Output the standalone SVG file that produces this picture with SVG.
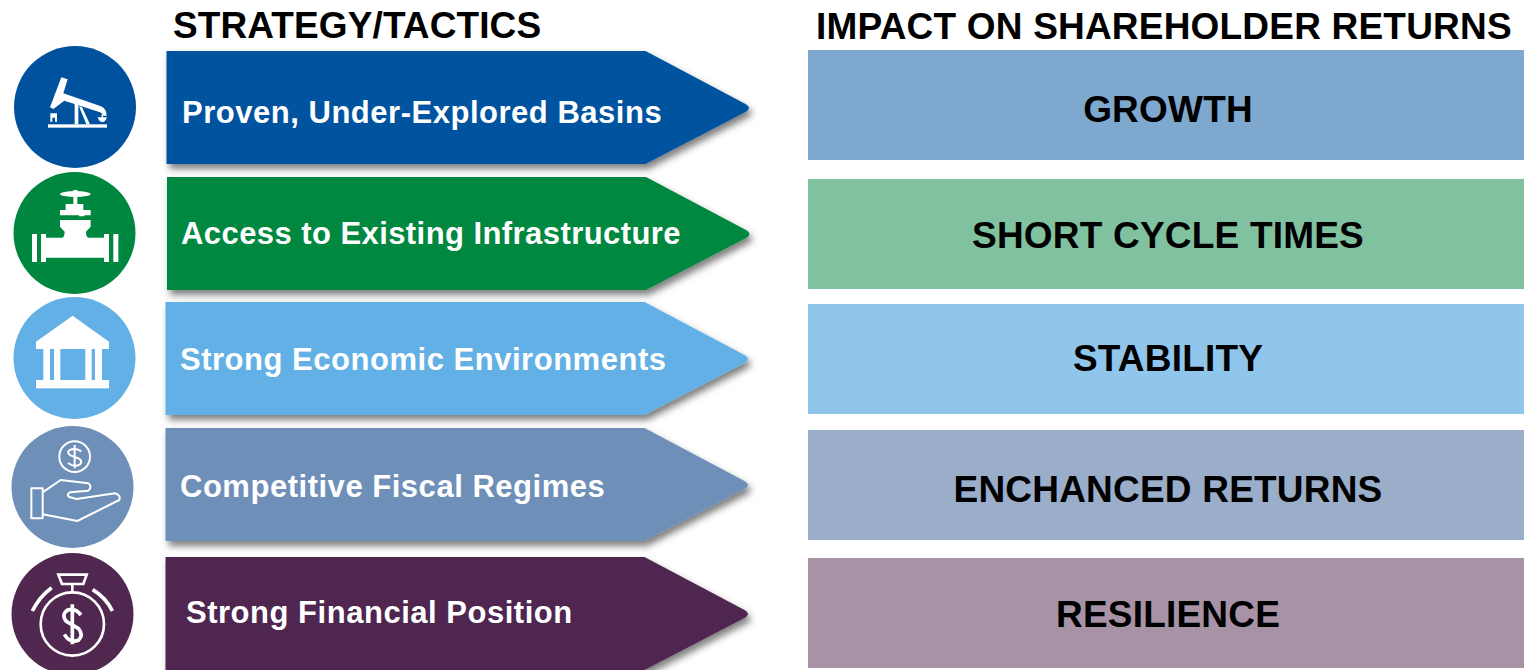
<svg xmlns="http://www.w3.org/2000/svg" width="1524" height="670" viewBox="0 0 1524 670">
<style>
text{font-family:"Liberation Sans",Arial,sans-serif;font-weight:700}
.h{font-size:37px;fill:#000}
.a{font-size:31px;fill:#fff;letter-spacing:.52px}
.a2{letter-spacing:.43px}
.b{font-size:37px;fill:#000;text-anchor:middle;letter-spacing:.2px}
.w{fill:#fff}
.o{fill:none;stroke:#fff;stroke-width:6;stroke-linejoin:round}
.o2{fill:none;stroke:#fff;stroke-width:8}
.o3{fill:none;stroke:#fff;stroke-width:11}
</style>
<defs>
<filter id="sh" x="-5%" y="-10%" width="112%" height="125%"><feDropShadow dx="3" dy="5" stdDeviation="3.500" flood-color="#000" flood-opacity=".5"/></filter>
<path id="arr" d="M0 0H479L579 53Q586 57 579 61L479 113H0Z" filter="url(#sh)"/>
</defs>
<g id="headers">
<text class="h" x="173" y="38" letter-spacing=".1">STRATEGY/TACTICS</text>
<text class="h" x="816" y="39" letter-spacing=".2">IMPACT ON SHAREHOLDER RETURNS</text>
</g>
<g id="connectors"/>
<g id="node-1">
<circle cx="75" cy="107" r="61" fill="#00529f"/>
<g transform="translate(25 65) scale(.3333)">
<rect class="w" x="69" y="178" width="177" height="10"/>
<path class="w" d="M75 127L109 37L128 43L115 85L228 124Q245 132 245 152H235Q233 144 225 142L118 107L85 132Z"/>
<path class="w" d="M76 145H96V170H90V158H82V170H76Z"/>
<path class="w" d="M149 112H160V178H149ZM162 124L171 127L195 178H184Z"/>
<path class="w" d="M218 157H246Q242 171 232 171Q222 171 218 157ZM230 148H234V158H230Z"/>
</g>
<use href="#arr" x="166.500" y="51" fill="#00529f"/>
<text class="a" x="182" y="123">Proven, Under-Explored Basins</text>
</g>
<g id="node-2">
<circle cx="74.500" cy="233" r="61" fill="#00873f"/>
<g transform="translate(25 185) scale(.3333)">
<ellipse class="w" cx="151" cy="27" rx="46" ry="9"/>
<rect class="w" x="145" y="15" width="12" height="42"/>
<path class="w" d="M122 75V57H175V75H197V91H178V94H162V91H105V75Z"/>
<path class="w" d="M105 105H197V125L183 140Q183 155 190 158H237V147H252V231H237V218H63V231H48V147H63V158H112Q119 155 119 140L105 125Z"/>
<rect class="w" x="21" y="147" width="15" height="84"/>
<rect class="w" x="265" y="147" width="15" height="84"/>
</g>
<use href="#arr" x="167" y="177" fill="#00873f"/>
<text class="a a2" x="181" y="244">Access to Existing Infrastructure</text>
</g>
<g id="node-3">
<circle cx="74.500" cy="358" r="61" fill="#62b0e5"/>
<g transform="translate(25 310) scale(.3333)">
<path class="w" d="M143 17L252 95V117H33V95Z"/>
<rect class="w" x="55" y="117" width="20" height="93"/>
<rect class="w" x="87" y="117" width="19" height="93"/>
<rect class="w" x="181" y="117" width="19" height="93"/>
<rect class="w" x="210" y="117" width="21" height="93"/>
<rect class="w" x="33" y="210" width="219" height="25"/>
</g>
<use href="#arr" x="165.500" y="302" fill="#62b0e5"/>
<text class="a" x="180" y="370">Strong Economic Environments</text>
</g>
<g id="node-4">
<circle cx="72.500" cy="487" r="61" fill="#6e8fb8"/>
<g transform="translate(20 435) scale(.3333)">
<circle class="o" cx="164" cy="65" r="46"/>
<path class="o" d="M184 49Q164 36 148 46Q136 58 164 66Q192 74 180 88Q164 98 144 84M164 30V100"/>
<rect class="o" x="34" y="160" width="34" height="90"/>
<path class="o" d="M68 172L122 135L205 145Q218 155 205 167L150 172Q137 180 150 187L170 192L285 175Q303 180 298 195L172 258L68 238"/>
</g>
<use href="#arr" x="165.500" y="428" fill="#6e8fb8"/>
<text class="a" x="180" y="497">Competitive Fiscal Regimes</text>
</g>
<g id="node-5">
<circle cx="72.500" cy="614" r="61" fill="#50284f"/>
<g transform="translate(20 565) scale(.3333)">
<circle class="o2" cx="157" cy="177" r="95"/>
<path class="o2" d="M115 29H200L190 57H126ZM157 57V82"/>
<path class="o3" d="M37 138Q58 95 95 68M277 138Q258 98 218 74"/>
<path class="o3" d="M183 150Q165 128 143 135Q122 150 140 170L175 190Q192 210 175 226Q150 236 133 208M157 118V238"/>
</g>
<use href="#arr" x="165.500" y="557" fill="#50284f"/>
<text class="a" x="186" y="623">Strong Financial Position</text>
</g>
<g id="result-1"><rect x="808" y="50" width="716" height="110" fill="#7fa8cf"/><text class="b" x="1168" y="122">GROWTH</text></g>
<g id="result-2"><rect x="808" y="179" width="716" height="110" fill="#80c29f"/><text class="b" x="1168" y="248">SHORT CYCLE TIMES</text></g>
<g id="result-3"><rect x="808" y="304" width="716" height="110" fill="#90c6ec"/><text class="b" x="1168" y="371">STABILITY</text></g>
<g id="result-4"><rect x="808" y="430" width="716" height="110" fill="#9aaeca"/><text class="b" x="1168" y="502">ENCHANCED RETURNS</text></g>
<g id="result-5"><rect x="808" y="558" width="716" height="110" fill="#a892a6"/><text class="b" x="1168" y="627">RESILIENCE</text></g>
</svg>
